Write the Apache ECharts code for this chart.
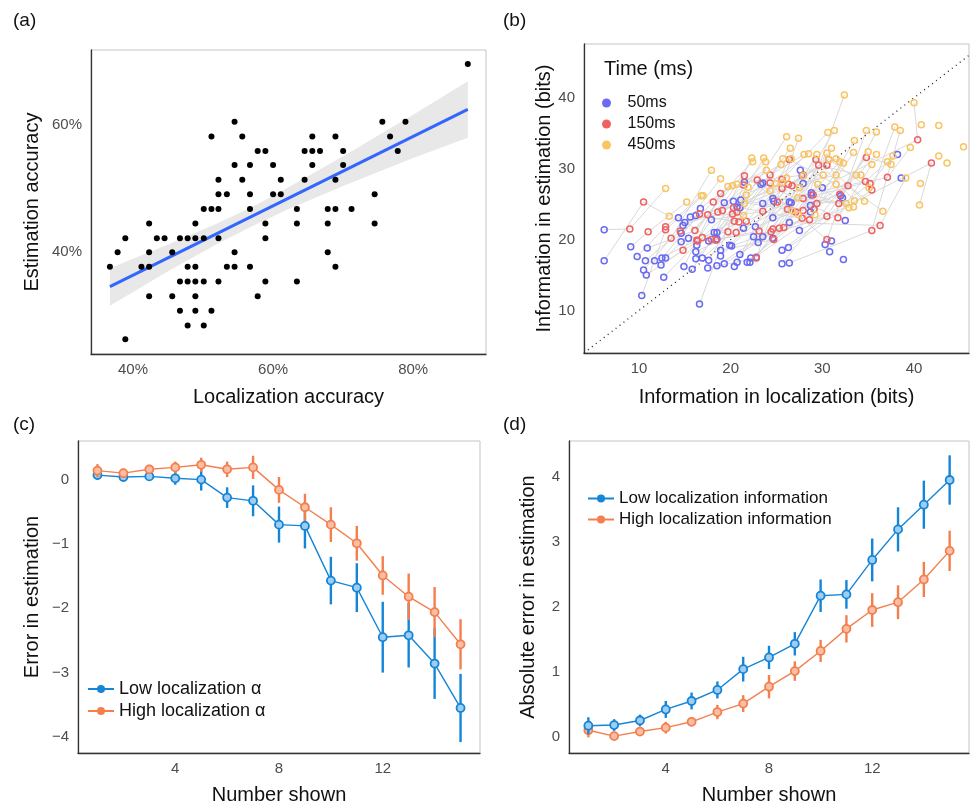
<!DOCTYPE html>
<html>
<head>
<meta charset="utf-8">
<script src="https://cdn.jsdelivr.net/npm/echarts@6/dist/echarts.min.js"></script>
<style>
  html, body { margin: 0; padding: 0; background: #fff; }
  #chart { width: 972px; height: 809px; }
</style>
</head>
<body>
<div id="chart"></div>
<script>
// (a) localization vs estimation accuracy, in %
const locAcc = [87.8,
  54.5, 75.6, 78.9,
  51.2, 55.6, 65.6, 68.9, 76.7,
  57.8, 58.9, 64.5, 65.6, 66.7, 70.0, 77.8,
  54.5, 56.7, 60.0, 65.6, 70.0,
  52.2, 55.6, 61.1, 64.5, 68.9,
  52.2, 53.4, 56.7, 60.0, 61.1, 74.5,
  50.1, 51.2, 52.2, 56.7, 63.4, 67.8, 68.9, 71.2,
  42.3, 48.9, 58.9, 63.4, 67.8, 74.5,
  38.9, 43.4, 44.5, 46.7, 47.8, 48.9, 50.1, 52.2, 58.9,
  37.8, 42.3, 45.6, 54.5, 67.8,
  36.7, 41.2, 42.3, 47.8, 48.9, 53.4, 54.5, 56.7, 68.9,
  46.7, 47.8, 48.9, 50.1, 52.2, 58.9, 63.4,
  42.3, 45.6, 48.9, 57.8,
  46.7, 48.9, 51.2,
  47.8, 50.1,
  38.9];
const estAcc = [69.6,
  60.5, 60.5, 60.5,
  58.2, 58.2, 58.2, 58.2, 58.2,
  55.9, 55.9, 55.9, 55.9, 55.9, 55.9, 55.9,
  53.7, 53.7, 53.7, 53.7, 53.7,
  51.4, 51.4, 51.4, 51.4, 51.4,
  49.1, 49.1, 49.1, 49.1, 49.1, 49.1,
  46.8, 46.8, 46.8, 46.8, 46.8, 46.8, 46.8, 46.8,
  44.5, 44.5, 44.5, 44.5, 44.5, 44.5,
  42.2, 42.2, 42.2, 42.2, 42.2, 42.2, 42.2, 42.2, 42.2,
  40.0, 40.0, 40.0, 40.0, 40.0,
  37.7, 37.7, 37.7, 37.7, 37.7, 37.7, 37.7, 37.7, 37.7,
  35.4, 35.4, 35.4, 35.4, 35.4, 35.4, 35.4,
  33.1, 33.1, 33.1, 33.1,
  30.8, 30.8, 30.8,
  28.5, 28.5,
  26.3];
// fitted line and its confidence band
const fitX = [36.7, 87.8];
const fitY = [34.6, 62.45];
const bandX = [36.7, 45, 52, 57, 62, 70, 80, 87.8];
const bandLo = [31.6, 37.0, 41.3, 44.1, 46.7, 50.4, 54.8, 58.0];
const bandHi = [37.5, 41.2, 44.5, 47.1, 50.1, 55.1, 61.6, 66.9];

// (b) information in localization vs estimation (bits)
const info50 = [[6.2,21.4],[6.2,17.0],[9.1,19.0],[9.8,17.6],[10.7,17.0],[10.5,15.7],[10.8,15.0],[10.3,12.1],
  [10.9,18.8],[11.7,17.0],[12.4,16.4],[12.5,17.4],[12.9,17.4],[12.7,14.7],[14.3,23.1],[14.6,20.9],[14.8,22.0],
  [15.0,22.4],[14.6,19.7],[15.4,20.2],[15.6,23.2],[16.2,23.4],[16.7,24.4],[16.2,18.3],[16.3,19.2],[16.2,17.3],
  [16.9,17.4],[17.5,16.0],[17.6,17.1],[14.9,16.2],[15.8,15.8],[16.6,10.9],[17.9,22.8],[18.2,21.0],[18.5,21.0],
  [17.6,19.8],[18.5,20.1],[18.9,18.5],[18.9,17.7],[18.5,16.3],[19.3,16.6],[19.9,19.2],[20.1,19.1],[20.4,16.2],
  [20.7,16.8],[21.0,17.9],[21.4,21.6],[21.5,28.1],[21.8,16.8],[22.1,16.8],[22.2,17.4],[22.5,20.4],[22.8,17.5],
  [23.0,19.6],[22.7,21.8],[23.5,20.4],[23.5,25.1],[23.3,27.8],[23.5,28.0],[24.6,25.8],[24.6,23.1],[24.6,20.2],
  [24.7,25.4],[19.3,25.2],[20.3,25.4],[20.7,24.6],[21.1,25.6],[21.0,24.5],[25.6,16.6],[26.4,16.7],[25.6,18.5],
  [26.3,18.9],[26.4,22.4],[26.4,25.3],[26.6,25.2],[27.5,21.3],[27.6,29.8],[27.9,27.9],[27.8,29.0],[28.7,24.8],
  [28.7,23.9],[28.8,26.3],[28.8,26.6],[30.0,27.3],[30.3,19.3],[30.8,18.3],[31.0,19.8],[32.0,26.2],[32.2,25.9],
  [32.3,17.2],[32.5,22.7],[38.2,32.0],[38.6,28.7]];
const info150 = [[10.5,25.3],[9.0,21.5],[11.0,21.1],[12.9,21.8],[12.9,21.4],[13.5,20.2],[14.5,21.2],[14.8,18.5],
  [16.1,21.3],[16.3,19.9],[16.4,19.8],[16.9,20.3],[16.6,23.6],[17.5,23.5],[17.9,20.0],[18.4,19.9],[18.1,25.3],
  [18.6,23.9],[18.9,26.5],[19.1,24.1],[19.7,21.1],[20.2,23.6],[20.3,24.5],[20.4,22.6],[20.7,23.9],[20.6,21.0],
  [20.9,22.5],[21.5,29.0],[21.4,27.7],[21.7,22.6],[22.8,17.4],[22.9,28.4],[23.1,21.2],[23.5,24.0],[24.3,29.1],
  [24.3,28.0],[24.4,21.1],[24.6,21.5],[24.7,20.0],[25.1,25.3],[25.3,21.6],[25.6,28.5],[25.6,27.2],[25.8,21.7],
  [26.2,24.3],[26.3,27.8],[26.4,31.3],[26.7,27.6],[27.9,24.1],[27.8,23.0],[27.9,25.8],[27.9,29.1],[28.6,22.8],
  [29.0,26.3],[29.1,24.3],[29.4,25.1],[29.6,30.5],[29.3,31.3],[30.5,30.5],[30.7,31.3],[30.5,20.0],[30.5,23.3],
  [31.8,25.1],[31.7,23.1],[31.9,26.4],[32.8,27.6],[34.7,28.2],[34.8,31.6],[35.2,27.9],[35.4,27.0],[35.4,21.3],
  [36.3,22.0],[37.1,28.8],[40.4,34.1],[41.9,30.8],[27.1,23.9]];
const info450 = [[12.9,27.2],[13.3,23.3],[15.2,25.3],[16.8,26.2],[17.0,26.2],[17.9,29.8],[18.9,28.6],[19.7,27.5],
  [20.2,27.6],[20.7,27.8],[21.5,25.1],[21.7,26.3],[21.9,27.4],[21.4,23.4],[22.3,31.5],[22.4,31.0],[23.6,31.5],
  [23.8,31.0],[23.9,29.8],[24.3,26.9],[24.9,27.9],[25.5,30.6],[25.7,31.4],[25.6,28.0],[26.1,28.7],[26.1,34.5],
  [26.5,32.9],[26.6,31.4],[27.4,34.3],[27.3,25.9],[27.5,27.3],[27.9,29.0],[26.7,24.1],[27.4,23.5],[28.0,32.0],
  [28.5,32.1],[29.4,32.0],[29.2,23.5],[29.5,27.8],[30.1,29.1],[30.5,32.2],[30.7,31.3],[30.6,35.1],[31.3,35.4],
  [31.0,32.9],[31.5,31.4],[31.5,27.8],[31.5,29.1],[31.9,31.0],[32.3,30.8],[32.4,40.4],[32.6,25.1],[33.5,34.0],
  [33.4,32.3],[33.5,25.5],[33.4,24.6],[33.7,29.1],[34.2,29.1],[34.6,25.4],[34.8,35.4],[35.0,32.4],[35.9,35.2],
  [35.9,32.0],[35.4,30.6],[35.1,27.3],[36.6,24.0],[37.1,31.0],[37.5,30.6],[37.9,35.9],[37.7,31.8],[38.5,35.4],
  [39.1,28.7],[39.6,33.0],[40.0,39.3],[40.7,27.9],[40.6,24.9],[40.8,36.2],[42.7,36.1],[42.7,31.8],[43.6,30.8],
  [45.4,33.1],[32.9,24.5]];
const identityEnds = [4, 46];

// (c) and (d): per number shown
const numberShown = [1, 2, 3, 4, 5, 6, 7, 8, 9, 10, 11, 12, 13, 14, 15];
const errLow = [0.07, 0.04, 0.05, 0.02, 0.0, -0.28, -0.33, -0.70, -0.72, -1.57, -1.68, -2.45, -2.42, -2.86, -3.55];
const errLowSe = [0.07, 0.03, 0.04, 0.1, 0.17, 0.16, 0.24, 0.28, 0.35, 0.37, 0.38, 0.55, 0.5, 0.55, 0.53];
const errHigh = [0.14, 0.10, 0.16, 0.19, 0.23, 0.16, 0.19, -0.16, -0.43, -0.70, -0.99, -1.49, -1.82, -2.06, -2.56];
const errHighSe = [0.1, 0.07, 0.07, 0.09, 0.11, 0.12, 0.18, 0.2, 0.21, 0.27, 0.27, 0.3, 0.36, 0.39, 0.39];
const absLow = [0.17, 0.18, 0.25, 0.42, 0.55, 0.72, 1.04, 1.22, 1.43, 2.17, 2.19, 2.72, 3.19, 3.57, 3.95];
const absLowSe = [0.13, 0.09, 0.09, 0.13, 0.13, 0.13, 0.19, 0.18, 0.18, 0.25, 0.22, 0.33, 0.34, 0.37, 0.38];
const absHigh = [0.1, 0.01, 0.08, 0.14, 0.23, 0.38, 0.51, 0.77, 1.01, 1.32, 1.66, 1.95, 2.07, 2.42, 2.86];
const absHighSe = [0.11, 0.06, 0.06, 0.09, 0.06, 0.11, 0.13, 0.18, 0.15, 0.17, 0.21, 0.26, 0.26, 0.27, 0.31];

const FONT = 'Liberation Sans, Arial, sans-serif';
const BLUE = '#1585d8', BLUE_FILL = '#9fcdf1';
const ORANGE = '#f47f4e', ORANGE_FILL = '#f9bea4';
const C50 = '#6a6af2', C150 = '#f06262', C450 = '#f9c564';

// only label the ticks that fall on multiples of `step`
function tickFmt(step, suffix) {
  return function (v) {
    const r = Math.round(v);
    if (Math.abs(v - r) > 1e-6 || r % step !== 0) return '';
    return (r < 0 ? '\u2212' + (-r) : r) + (suffix || '');
  };
}

function axisOf(grid, min, max, interval, step, suffix, name, gap, margin) {
  return {
    type: 'value', gridIndex: grid, min: min, max: max, interval: interval,
    name: name, nameLocation: 'middle', nameGap: gap,
    nameTextStyle: { fontFamily: FONT, fontSize: 20, color: '#111' },
    axisLine: { show: true, onZero: false, lineStyle: { color: '#333', width: 1.3 } },
    axisTick: { show: false }, splitLine: { show: false },
    axisLabel: { interval: 0, margin: margin, fontFamily: FONT, fontSize: 15, color: '#4d4d4d', formatter: tickFmt(step, suffix) }
  };
}

function errorBars(grid, xs, ys, es, color, z) {
  return {
    type: 'custom', xAxisIndex: grid, yAxisIndex: grid, z: z, silent: true,
    data: xs.map((x, i) => [x, ys[i], es[i]]),
    renderItem: function (params, api) {
      const x = api.value(0), y = api.value(1), e = api.value(2);
      const p1 = api.coord([x, y - e]), p2 = api.coord([x, y + e]);
      return { type: 'line', shape: { x1: p1[0], y1: p1[1], x2: p2[0], y2: p2[1] },
        style: { stroke: color, lineWidth: 2.4 } };
    }
  };
}
function meanLine(grid, name, xs, ys, color, fill, z) {
  return {
    type: 'line', name: name, xAxisIndex: grid, yAxisIndex: grid, z: z,
    data: xs.map((x, i) => [x, ys[i]]),
    symbol: 'circle', symbolSize: 8,
    lineStyle: { color: color, width: 1.4 },
    itemStyle: { color: fill, borderColor: color, borderWidth: 1.8 }
  };
}
function legendItem(name, color) {
  return { name: name, itemStyle: { color: color, borderColor: color, borderWidth: 0 } };
}

// grey trajectories: link points of the three durations by their rank along x
const s50 = info50.slice().sort((p, q) => p[0] - q[0]);
const s150 = info150.slice().sort((p, q) => p[0] - q[0]);
const s450 = info450.slice().sort((p, q) => p[0] - q[0]);
const nLinks = Math.min(s50.length, s150.length, s450.length);
const trajectories = [];
for (let i = 0; i < nLinks; i++) trajectories.push({ coords: [s50[i], s150[i], s450[i]] });

const chart = echarts.init(document.getElementById('chart'));
const gridBorder = { show: true, borderColor: '#c4c4c4', borderWidth: 1, containLabel: false };
const panelLabel = { fontFamily: FONT, fontSize: 19, fontWeight: 'normal', color: '#111' };

chart.setOption({
  animation: false,
  textStyle: { fontFamily: FONT },
  title: [
    { text: '(a)', left: 8, top: 6, textStyle: panelLabel },
    { text: '(b)', left: 498, top: 6, textStyle: panelLabel },
    { text: '(c)', left: 8, top: 410, textStyle: panelLabel },
    { text: '(d)', left: 498, top: 410, textStyle: panelLabel },
    { text: 'Time (ms)', left: 599, top: 54, textStyle: { fontFamily: FONT, fontSize: 20, fontWeight: 'normal', color: '#111' } }
  ],
  grid: [
    Object.assign({ left: 91, right: 486, top: 50, bottom: 455 }, gridBorder),
    Object.assign({ left: 584, right: 2, top: 44, bottom: 456 }, gridBorder),
    Object.assign({ left: 78, right: 492, top: 441, bottom: 56 }, gridBorder),
    Object.assign({ left: 569, right: 2, top: 441, bottom: 56 }, gridBorder)
  ],
  xAxis: [
    axisOf(0, 34, 90.4, 2, 20, '%', 'Localization accuracy', 33, 8),
    axisOf(1, 4, 46, 2, 10, '', 'Information in localization (bits)', 34, 8),
    axisOf(2, 0.25, 15.75, 0.25, 4, '', 'Number shown', 32, 8),
    axisOf(3, 0.25, 15.75, 0.25, 4, '', 'Number shown', 32, 8)
  ],
  yAxis: [
    axisOf(0, 24, 71.8, 2, 20, '%', 'Estimation accuracy', 49, 9),
    axisOf(1, 4, 47.6, 2, 10, '', 'Information in estimation (bits)', 26, 9),
    axisOf(2, -4.25, 0.6, 0.25, 1, '', 'Error in estimation', 36, 9),
    axisOf(3, -0.25, 4.55, 0.05, 1, '', 'Absolute error in estimation', 31, 9)
  ],
  legend: [
    {
      left: 597, top: 90, orient: 'vertical', itemGap: 5, itemWidth: 24, itemHeight: 9,
      textStyle: { fontFamily: FONT, fontSize: 16, color: '#111', padding: [0, 0, 0, 4] },
      data: [
        { name: '50ms', icon: 'circle', itemStyle: { color: C50, borderWidth: 0 } },
        { name: '150ms', icon: 'circle', itemStyle: { color: C150, borderWidth: 0 } },
        { name: '450ms', icon: 'circle', itemStyle: { color: C450, borderWidth: 0 } }
      ]
    },
    {
      left: 82, top: 675, orient: 'vertical', itemGap: 4, itemWidth: 26, itemHeight: 10,
      textStyle: { fontFamily: FONT, fontSize: 18, color: '#111' },
      data: [legendItem('Low localization \u03b1', BLUE), legendItem('High localization \u03b1', ORANGE)]
    },
    {
      left: 582, top: 485, orient: 'vertical', itemGap: 4, itemWidth: 26, itemHeight: 10,
      textStyle: { fontFamily: FONT, fontSize: 17, color: '#111' },
      data: [legendItem('Low localization information', BLUE), legendItem('High localization information', ORANGE)]
    }
  ],
  series: [
    // (a)
    {
      type: 'custom', xAxisIndex: 0, yAxisIndex: 0, z: 1, silent: true,
      data: [0],
      renderItem: function (params, api) {
        const pts = [];
        for (let i = 0; i < bandX.length; i++) pts.push(api.coord([bandX[i], bandHi[i]]));
        for (let i = bandX.length - 1; i >= 0; i--) pts.push(api.coord([bandX[i], bandLo[i]]));
        return { type: 'polygon', shape: { points: pts }, style: { fill: '#e8e8e8' } };
      }
    },
    {
      type: 'line', xAxisIndex: 0, yAxisIndex: 0, z: 2, symbol: 'none',
      data: fitX.map((x, i) => [x, fitY[i]]),
      lineStyle: { color: '#3366ff', width: 3 }
    },
    {
      type: 'scatter', xAxisIndex: 0, yAxisIndex: 0, z: 3, symbolSize: 6,
      data: locAcc.map((x, i) => [x, estAcc[i]]),
      itemStyle: { color: '#000', opacity: 1 }
    },
    // (b)
    {
      type: 'lines', coordinateSystem: 'cartesian2d', xAxisIndex: 1, yAxisIndex: 1, polyline: true, z: 1,
      data: trajectories, lineStyle: { color: '#d9d9d9', width: 1, opacity: 1 }
    },
    {
      type: 'line', xAxisIndex: 1, yAxisIndex: 1, z: 2, symbol: 'none',
      data: identityEnds.map(v => [v, v]),
      lineStyle: { color: '#222', width: 1.3, type: [1, 4] }
    },
    {
      type: 'scatter', name: '50ms', xAxisIndex: 1, yAxisIndex: 1, z: 3, symbolSize: 6, data: info50,
      itemStyle: { color: 'rgba(255,255,255,0)', borderColor: C50, borderWidth: 1.5, opacity: 1 }
    },
    {
      type: 'scatter', name: '150ms', xAxisIndex: 1, yAxisIndex: 1, z: 3, symbolSize: 6, data: info150,
      itemStyle: { color: 'rgba(255,255,255,0)', borderColor: C150, borderWidth: 1.5, opacity: 1 }
    },
    {
      type: 'scatter', name: '450ms', xAxisIndex: 1, yAxisIndex: 1, z: 3, symbolSize: 6, data: info450,
      itemStyle: { color: 'rgba(255,255,255,0)', borderColor: C450, borderWidth: 1.5, opacity: 1 }
    },
    // (c)
    errorBars(2, numberShown, errLow, errLowSe, BLUE, 2),
    meanLine(2, 'Low localization \u03b1', numberShown, errLow, BLUE, BLUE_FILL, 3),
    errorBars(2, numberShown, errHigh, errHighSe, ORANGE, 4),
    meanLine(2, 'High localization \u03b1', numberShown, errHigh, ORANGE, ORANGE_FILL, 5),
    // (d)
    errorBars(3, numberShown, absHigh, absHighSe, ORANGE, 2),
    meanLine(3, 'High localization information', numberShown, absHigh, ORANGE, ORANGE_FILL, 3),
    errorBars(3, numberShown, absLow, absLowSe, BLUE, 4),
    meanLine(3, 'Low localization information', numberShown, absLow, BLUE, BLUE_FILL, 5)
  ]
});
</script>
</body>
</html>
